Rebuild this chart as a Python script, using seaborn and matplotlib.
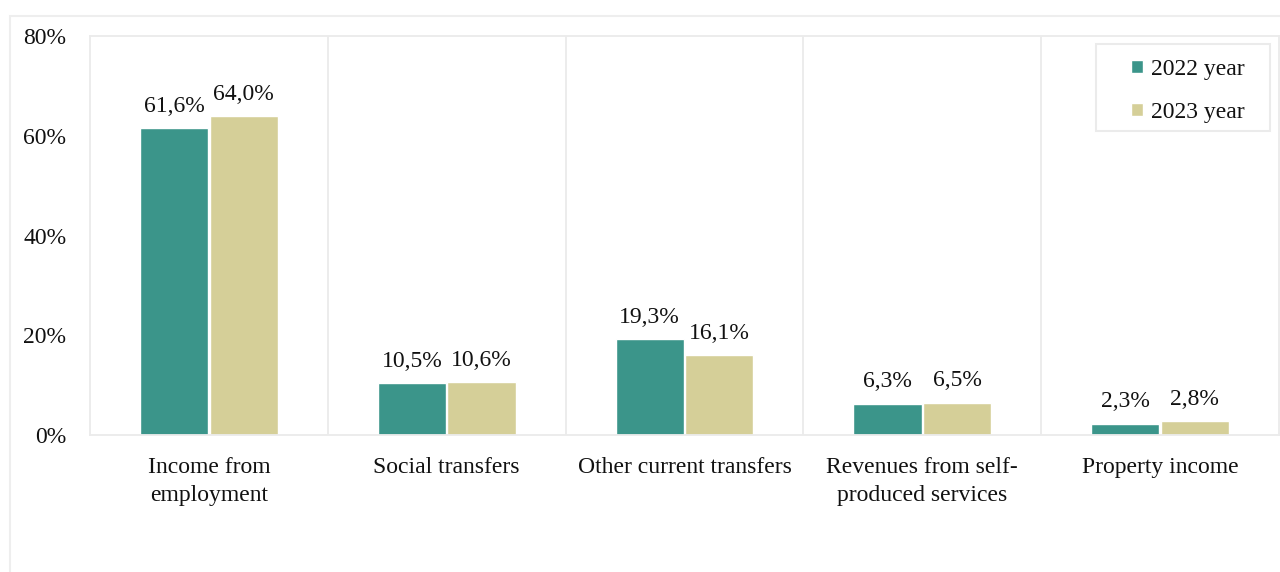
import matplotlib
matplotlib.use("Agg")
import matplotlib.pyplot as plt
import seaborn as sns
import pandas as pd
from matplotlib.patches import Rectangle

categories = ["Income from\nemployment", "Social transfers", "Other current transfers",
              "Revenues from self-\nproduced services", "Property income"]
years = ["2022 year", "2023 year"]
values_2022 = [61.6, 10.5, 19.3, 6.3, 2.3]
values_2023 = [64.0, 10.6, 16.1, 6.5, 2.8]
y_ticks = [0, 20, 40, 60, 80]

df = pd.DataFrame({
    "category": categories * 2,
    "year": [years[0]] * len(categories) + [years[1]] * len(categories),
    "share": values_2022 + values_2023,
})

sns.set_theme(style="white")
plt.rcParams["font.family"] = ["Liberation Serif", "DejaVu Serif"]

W, H = 1280, 572
FS = 17
TXT = "#111111"
fig = plt.figure(figsize=(W / 100, H / 100), dpi=100)
ax = fig.add_axes([90 / W, 1 - 435 / H, 1189 / W, 399 / H])

palette = {years[0]: "#3B958A", years[1]: "#D5CF98"}
sns.barplot(data=df, x="category", y="share", hue="year", palette=palette,
            width=0.585, gap=0.02, saturation=1, ax=ax, order=categories,
            hue_order=years)

for cont in ax.containers:
    ax.bar_label(cont, labels=[f"{v:.1f}%".replace(".", ",") for v in cont.datavalues],
                 padding=8, fontsize=FS, color=TXT)

ax.set_ylim(0, 80)
ax.set_yticks(y_ticks)
ax.set_yticklabels([f"{t}%" for t in y_ticks])
ax.set_xlim(-0.5, len(categories) - 0.5)
ax.set_xlabel("")
ax.set_ylabel("")
ax.tick_params(axis="y", length=0, pad=17, labelsize=FS, labelcolor=TXT)
ax.tick_params(axis="x", length=0, pad=16, labelsize=FS, labelcolor=TXT)
for lbl in ax.get_xticklabels():
    lbl.set_linespacing(1.4)

grid_c = "#EBEBEB"
for i in range(len(categories) - 1):
    ax.axvline(i + 0.5, color=grid_c, lw=1.3, zorder=0)
for s in ax.spines.values():
    s.set_color(grid_c)
    s.set_linewidth(1.3)

# legend entries, with a separate frame box around them
leg = ax.legend(loc="upper left", bbox_to_anchor=(1131 / W, 1 - 59 / H),
                bbox_transform=fig.transFigure, fontsize=FS, frameon=False,
                handlelength=0.5, handleheight=0.5, handletextpad=0.35,
                labelspacing=0.92, borderpad=0, borderaxespad=0)
for t in leg.get_texts():
    t.set_color(TXT)
fig.patches.append(Rectangle((1096 / W, 1 - 131 / H), 174 / W, 87 / H,
                             transform=fig.transFigure, fill=False,
                             edgecolor=grid_c, lw=1.5, zorder=5))

# outer chart frame
fig.patches.append(Rectangle((10 / W, -0.1), 1.2, 1 - 16 / H + 0.1,
                             transform=fig.transFigure, fill=False,
                             edgecolor="#EEEEEE", lw=1.5, zorder=-1))

fig.savefig("out.png", dpi=100)
